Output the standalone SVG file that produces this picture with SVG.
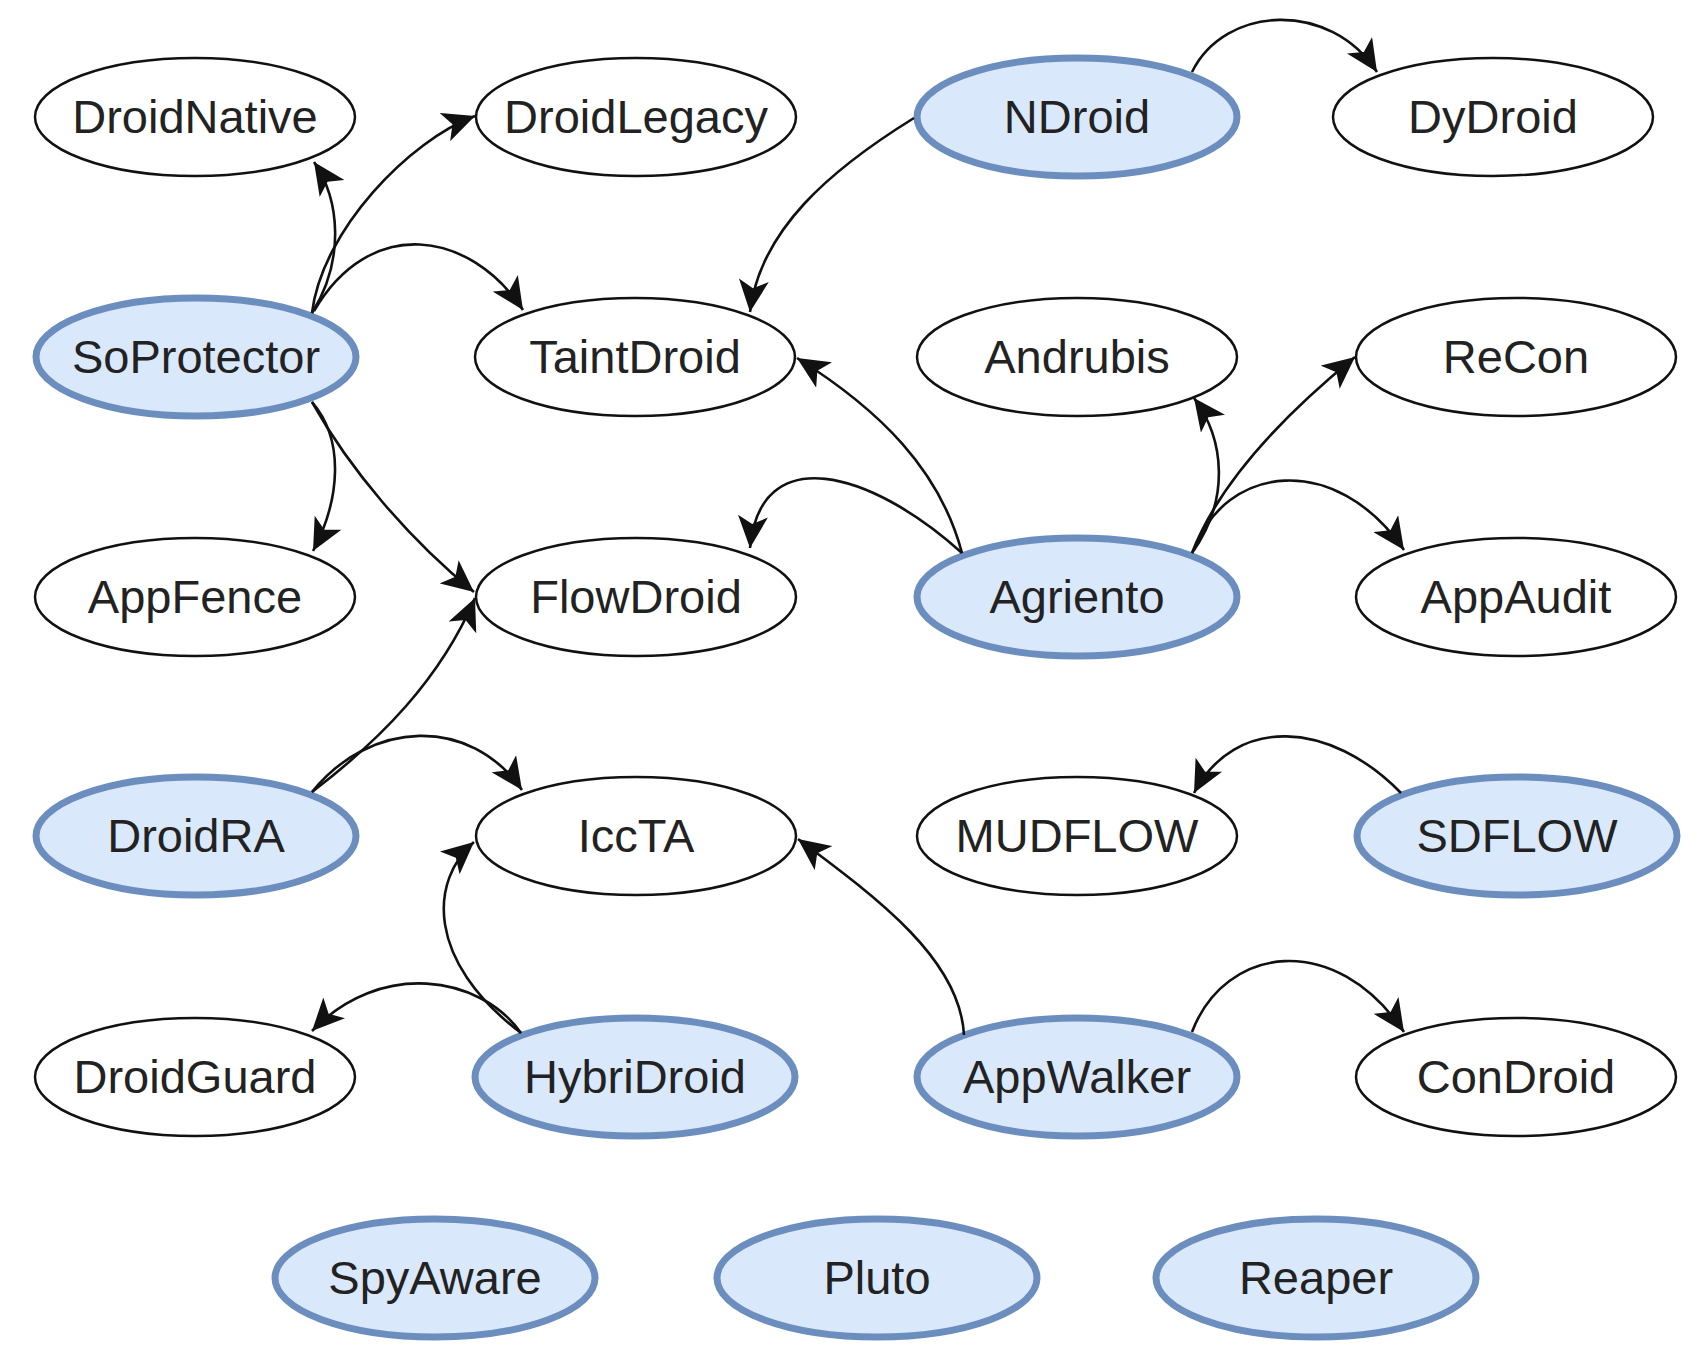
<svg xmlns="http://www.w3.org/2000/svg" width="1708" height="1364" viewBox="0 0 1708 1364">
<style>
.n ellipse{fill:#ffffff;stroke:#111111;stroke-width:2.5}
.h ellipse{fill:#dae8fc;stroke:#6c8ebf;stroke-width:7}
text{font-family:"Liberation Sans",Arial,sans-serif;font-size:47px;fill:#222222;text-anchor:middle}
#edges path{fill:none;stroke:#111111;stroke-width:2.6;marker-end:url(#arr)}
</style>
<defs>
<marker id="arr" markerUnits="userSpaceOnUse" markerWidth="34" markerHeight="30" refX="32" refY="15" orient="auto" viewBox="0 0 34 30">
<path d="M0,0 L32,15 L0,30 L8,15 z" fill="#111111"/>
</marker>
</defs>
<rect width="1708" height="1364" fill="#ffffff"/>
<g id="DroidNative" class="n"><ellipse cx="195" cy="117" rx="160" ry="59"/><text x="195" y="133">DroidNative</text></g>
<g id="DroidLegacy" class="n"><ellipse cx="636" cy="117" rx="160" ry="59"/><text x="636" y="133">DroidLegacy</text></g>
<g id="NDroid" class="h"><ellipse cx="1077" cy="117" rx="160" ry="59"/><text x="1077" y="133">NDroid</text></g>
<g id="DyDroid" class="n"><ellipse cx="1493" cy="117" rx="160" ry="59"/><text x="1493" y="133">DyDroid</text></g>
<g id="SoProtector" class="h"><ellipse cx="196" cy="357" rx="160" ry="59"/><text x="196" y="373">SoProtector</text></g>
<g id="TaintDroid" class="n"><ellipse cx="635" cy="357" rx="160" ry="59"/><text x="635" y="373">TaintDroid</text></g>
<g id="Andrubis" class="n"><ellipse cx="1077" cy="357" rx="160" ry="59"/><text x="1077" y="373">Andrubis</text></g>
<g id="ReCon" class="n"><ellipse cx="1516" cy="357" rx="160" ry="59"/><text x="1516" y="373">ReCon</text></g>
<g id="AppFence" class="n"><ellipse cx="195" cy="597" rx="160" ry="59"/><text x="195" y="613">AppFence</text></g>
<g id="FlowDroid" class="n"><ellipse cx="636" cy="597" rx="160" ry="59"/><text x="636" y="613">FlowDroid</text></g>
<g id="Agriento" class="h"><ellipse cx="1077" cy="597" rx="160" ry="59"/><text x="1077" y="613">Agriento</text></g>
<g id="AppAudit" class="n"><ellipse cx="1516" cy="597" rx="160" ry="59"/><text x="1516" y="613">AppAudit</text></g>
<g id="DroidRA" class="h"><ellipse cx="196" cy="836" rx="160" ry="59"/><text x="196" y="852">DroidRA</text></g>
<g id="IccTA" class="n"><ellipse cx="636" cy="836" rx="160" ry="59"/><text x="636" y="852">IccTA</text></g>
<g id="MUDFLOW" class="n"><ellipse cx="1077" cy="836" rx="160" ry="59"/><text x="1077" y="852">MUDFLOW</text></g>
<g id="SDFLOW" class="h"><ellipse cx="1517" cy="836" rx="160" ry="59"/><text x="1517" y="852">SDFLOW</text></g>
<g id="DroidGuard" class="n"><ellipse cx="195" cy="1077" rx="160" ry="59"/><text x="195" y="1093">DroidGuard</text></g>
<g id="HybriDroid" class="h"><ellipse cx="635" cy="1077" rx="160" ry="59"/><text x="635" y="1093">HybriDroid</text></g>
<g id="AppWalker" class="h"><ellipse cx="1077" cy="1077" rx="160" ry="59"/><text x="1077" y="1093">AppWalker</text></g>
<g id="ConDroid" class="n"><ellipse cx="1516" cy="1077" rx="160" ry="59"/><text x="1516" y="1093">ConDroid</text></g>
<g id="SpyAware" class="h"><ellipse cx="435" cy="1278" rx="160" ry="59"/><text x="435" y="1294">SpyAware</text></g>
<g id="Pluto" class="h"><ellipse cx="877" cy="1278" rx="160" ry="59"/><text x="877" y="1294">Pluto</text></g>
<g id="Reaper" class="h"><ellipse cx="1316" cy="1278" rx="160" ry="59"/><text x="1316" y="1294">Reaper</text></g>
<g id="edges">
<path d="M312,313 C345,260 340,200 314,162"/>
<path d="M312,313 C322,230 410,140 475,116"/>
<path d="M314,311 C370,215 470,230 523,310"/>
<path d="M312,402 C345,440 340,500 313,551"/>
<path d="M312,402 C350,470 410,540 474,592"/>
<path d="M312,792 C380,740 440,680 475,598"/>
<path d="M312,792 C370,720 470,715 522,790"/>
<path d="M521,1033 C425,960 430,880 474,842"/>
<path d="M521,1033 C480,975 380,960 312,1031"/>
<path d="M964,1035 C960,960 880,900 798,839"/>
<path d="M1192,1032 C1225,945 1335,930 1404,1032"/>
<path d="M1401,793 C1330,720 1235,715 1194,793"/>
<path d="M1192,72 C1225,5 1330,0 1377,72"/>
<path d="M914,118 C830,170 760,230 750,312"/>
<path d="M962,553 C940,470 880,410 797,358"/>
<path d="M962,553 C870,470 760,440 750,548"/>
<path d="M1192,553 C1230,500 1225,440 1194,398"/>
<path d="M1192,553 C1220,480 1290,410 1355,357"/>
<path d="M1194,550 C1225,465 1335,450 1404,550"/>
</g>
</svg>
